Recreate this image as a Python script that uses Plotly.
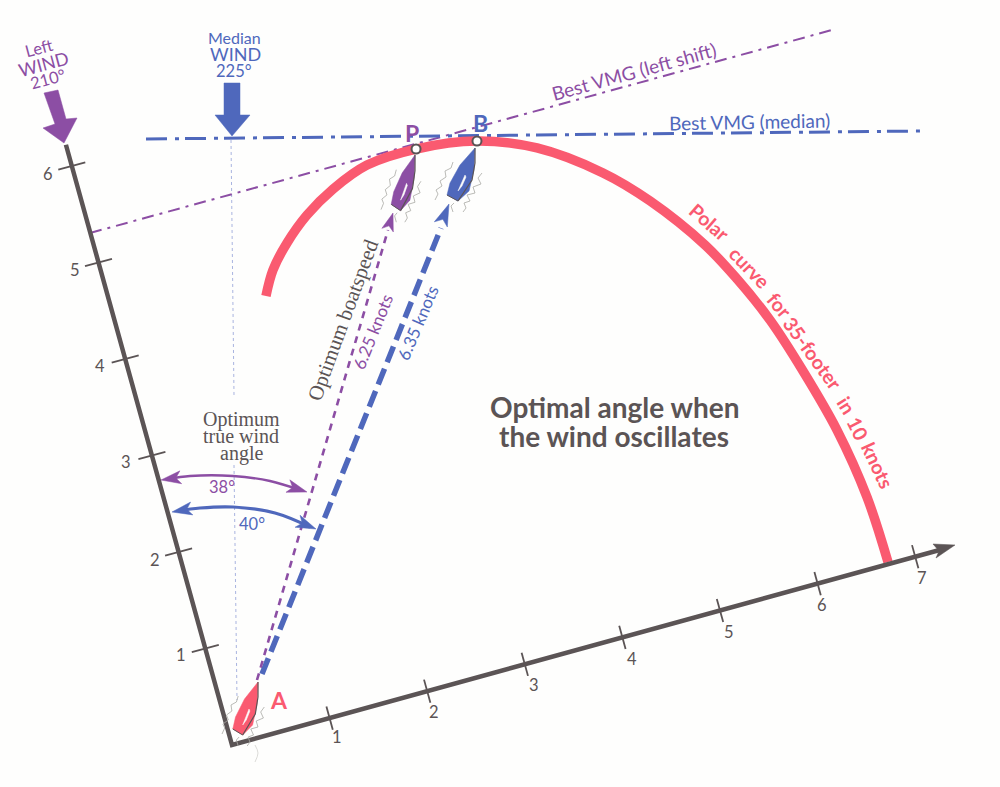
import math
import plotly.graph_objects as go

# ---- chart values (knots along the two rotated axes) ----
x_ticks = [1, 2, 3, 4, 5, 6, 7]
y_ticks = [1, 2, 3, 4, 5, 6]
polar_x = [1.506, 1.641, 1.846, 2.110, 2.426, 2.813, 3.322, 3.923, 4.476, 5.039, 5.412, 5.820, 6.035, 6.241, 6.421, 6.589, 6.698, 6.727]
polar_y = [4.233, 4.465, 4.688, 4.904, 5.085, 5.226, 5.250, 5.165, 4.939, 4.523, 4.129, 3.559, 3.147, 2.664, 2.086, 1.427, 0.703, 0.021]
point_p = (3.322, 5.250)
point_b = (3.923, 5.165)

GREY = "#5b5455"
RED = "#fa5a70"
BLUE = "#4f68bc"
PURPLE = "#8c4ea4"
SANS = "Lato"
SERIF = "Liberation Serif"

ORIGIN = (232, 745)
EX = (97.6, -26.9)
EY = (-26.7, -96.5)


def kn(x, y):
    return ORIGIN[0] + x * EX[0] + y * EY[0], ORIGIN[1] + x * EX[1] + y * EY[1]


fig = go.Figure()


def line(xs, ys, color, width, dash="solid", shape="linear"):
    fig.add_trace(go.Scatter(x=xs, y=ys, mode="lines", hoverinfo="skip", showlegend=False,
                             line=dict(color=color, width=width, dash=dash, shape=shape)))


def poly(pts, color, outline=None):
    fig.add_trace(go.Scatter(x=[p[0] for p in pts] + [pts[0][0]], y=[p[1] for p in pts] + [pts[0][1]],
                             mode="lines", fill="toself", fillcolor=color, hoverinfo="skip", showlegend=False,
                             line=dict(color=outline or color, width=0.5)))


def text(t, x, y, size, color, angle=0, font=SANS, bold=False):
    fig.add_annotation(x=x, y=y, text=f"<b>{t}</b>" if bold else t, showarrow=False, textangle=angle,
                       font=dict(family=font, size=size, color=color), xanchor="center", yanchor="middle")


def arrow_head(tip, frm, length, half, color):
    dx, dy = tip[0] - frm[0], tip[1] - frm[1]
    n = math.hypot(dx, dy)
    dx, dy = dx / n, dy / n
    bx, by = tip[0] - dx * length, tip[1] - dy * length
    nx, ny = tip[0] - dx * length * 0.75, tip[1] - dy * length * 0.75
    poly([tip, (bx - dy * half, by + dx * half), (nx, ny), (bx + dy * half, by - dx * half)], color)


def boat(tip, sx, sy, color):
    tr = lambda pts: ([tip[0] + p[0] * sx for p in pts], [tip[1] + p[1] * sy for p in pts])
    for sq in ([(-40, 52), (-37, 46), (-39, 42), (-33, 38), (-35, 33), (-29, 29), (-30, 23), (-24, 20), (-22, 14)],
               [(-12, 64), (-9, 60), (-11, 55), (-5, 53), (-8, 47), (0, 45), (-2, 39), (6, 36), (3, 30), (7, 25)],
               [(-22, 64), (-24, 58), (-21, 55)]):
        xs, ys = tr(sq)
        line(xs, ys, "#a9a9a4", 0.8)
    xs, ys = tr([(0, 0), (-15, 17), (-25, 35), (-28, 47), (-17, 53), (-6, 43), (-1, 22)])
    poly(list(zip(xs, ys)), color)
    xs, ys = tr([(-10, 27), (-17, 43), (-13, 38), (-9, 29)])
    poly(list(zip(xs, ys)), "#fdfdfb")
    xs, ys = tr([(0, 0), (0, 15), (-3, 32), (-17, 53)])
    line(xs, ys, GREY, 1.2)
    xs, ys = tr([(-28, 47), (-17, 53)])
    line(xs, ys, GREY, 1)


# median wind dotted line
line([231, 234], [140, 395], "#a9b4e0", 1, "dot")
line([234, 237], [465, 700], "#a9b4e0", 1, "dot")
line([255, 258, 255], [745, 753, 762], "#d2d2ce", 0.8, shape="spline")

# best VMG lines
line([90, 832], [233, 30], PURPLE, 2, "12px,6px,3px,6px")
line([146, 922], [139, 131], BLUE, 3, "21px,8px,4px,6px")

# polar curve
px, py = zip(*[kn(a, b) for a, b in zip(polar_x, polar_y)])
line(list(px), list(py), RED, 9.5, shape="spline")

# axes
tip_y = kn(0, 6.22)
tip_x = kn(7.25, 0)
line([tip_y[0], ORIGIN[0], tip_x[0]], [tip_y[1], ORIGIN[1], tip_x[1]], GREY, 4.5)
poly([(955, 545), (933, 544), (939, 551), (936, 558)], GREY)
for k in x_ticks:
    c = kn(k, 0)
    ex = (0.266, 0.964)
    line([c[0] - 12 * ex[0], c[0] + 12 * ex[0]], [c[1] - 12 * ex[1], c[1] + 12 * ex[1]], GREY, 1.8)
for k in y_ticks:
    c = kn(0, k)
    ey = (0.964, -0.266)
    line([c[0] - 14 * ey[0], c[0] + 14 * ey[0]], [c[1] - 14 * ey[1], c[1] + 14 * ey[1]], GREY, 1.8)
for k, (x, y) in zip(x_ticks, [(337, 737), (434, 712), (534, 685), (632, 659), (729, 632), (822, 605), (922, 578)]):
    text(str(k), x, y, 16.5, GREY)
for k, (x, y) in zip(y_ticks, [(181, 655), (155, 560), (126, 462), (100, 366), (75, 270), (48, 174)]):
    text(str(k), x, y, 16.5, GREY)

# boat speed vectors
line([262, 441], [674, 228], BLUE, 5.5, "17px,7px")
line([257, 388], [680, 230], PURPLE, 2.6, "7px,6px")
arrow_head((449, 204), (439, 229), 22, 7, BLUE)
arrow_head((393, 213), (387, 232), 18, 6, PURPLE)

# boats
boat((415, 155), 0.85, 1.05, PURPLE)
boat((475, 148), 1, 1, BLUE)
boat((258, 682), 0.9, 1.0, RED)

# points on the curve
pts = [kn(*point_p), kn(*point_b)]
fig.add_trace(go.Scatter(x=[p[0] for p in pts], y=[p[1] for p in pts], mode="markers", hoverinfo="skip",
                         showlegend=False, marker=dict(size=9, color="white", line=dict(color=GREY, width=2))))

# wind arrows
poly([(44, 93), (58, 90), (66, 119), (77, 118), (64, 143), (43, 128), (55, 124)], PURPLE)
poly([(224, 83), (240, 83), (240, 115), (250, 115), (232, 136), (215, 115), (224, 115)], BLUE)

# angle arcs
line([168, 190, 233, 270, 300], [479, 476, 476, 481, 490], PURPLE, 2.4, shape="spline")
arrow_head((161, 480), (190, 476), 20, 6.5, PURPLE)
arrow_head((307, 492), (278, 483), 20, 6.5, PURPLE)
line([178, 200, 233, 275, 310], [511, 508, 507, 513, 527], BLUE, 3.2, shape="spline")
arrow_head((172, 512), (200, 507), 20, 6.5, BLUE)
arrow_head((316, 529), (285, 516), 20, 6.5, BLUE)

# labels
text("Left", 39, 48, 16.5, PURPLE, -15)
text("WIND", 43, 64, 18, PURPLE, -15)
text("210°", 48, 79, 16.5, PURPLE, -15)
text("Median", 234, 37, 16, BLUE)
text("WIND", 235, 54, 18, BLUE)
text("225°", 234, 71, 16.5, BLUE)
text("Best VMG (left shift)", 633, 71, 19, PURPLE, -15.4)
text("Best VMG (median)", 749, 121, 19, BLUE, -1)
text("P", 412, 133, 23, PURPLE, bold=True)
text("B", 480, 123, 23, BLUE, bold=True)
text("A", 279, 700, 23, RED, bold=True)
for t, x, y, a in [("Polar", 710, 222, 41), ("curve", 750, 267, 46), ("for", 780, 305, 50),
                   ("35-footer", 813, 353, 54), ("in", 847, 405, 58), ("10", 858, 428, 63), ("knots", 878, 465, 65)]:
    text(t, x, y, 19.5, RED, a, bold=True)
text("Optimal angle when", 614, 407, 28, GREY, bold=True)
text("the wind oscillates", 614, 436, 28, GREY, bold=True)
text("Optimum", 241, 419, 20, GREY, font=SERIF)
text("true wind", 241, 436, 20, GREY, font=SERIF)
text("angle", 241, 453, 20, GREY, font=SERIF)
text("38°", 222, 487, 16.5, PURPLE)
text("40°", 252, 524, 16.5, BLUE)
text("Optimum boatspeed", 343, 320, 21, GREY, -70, font=SERIF)
text("6.25 knots", 372, 332, 17, PURPLE, -68)
text("6.35 knots", 417, 323, 17, BLUE, -67)

fig.update_layout(width=1000, height=787, margin=dict(l=0, r=0, t=0, b=0),
                  paper_bgcolor="#fefefd", plot_bgcolor="#fefefd", showlegend=False,
                  xaxis=dict(range=[0, 1000], visible=False, fixedrange=True),
                  yaxis=dict(range=[787, 0], visible=False, fixedrange=True))
fig.write_html("out.html", config={"displayModeBar": False}, post_script="document.body.style.margin='0';")
